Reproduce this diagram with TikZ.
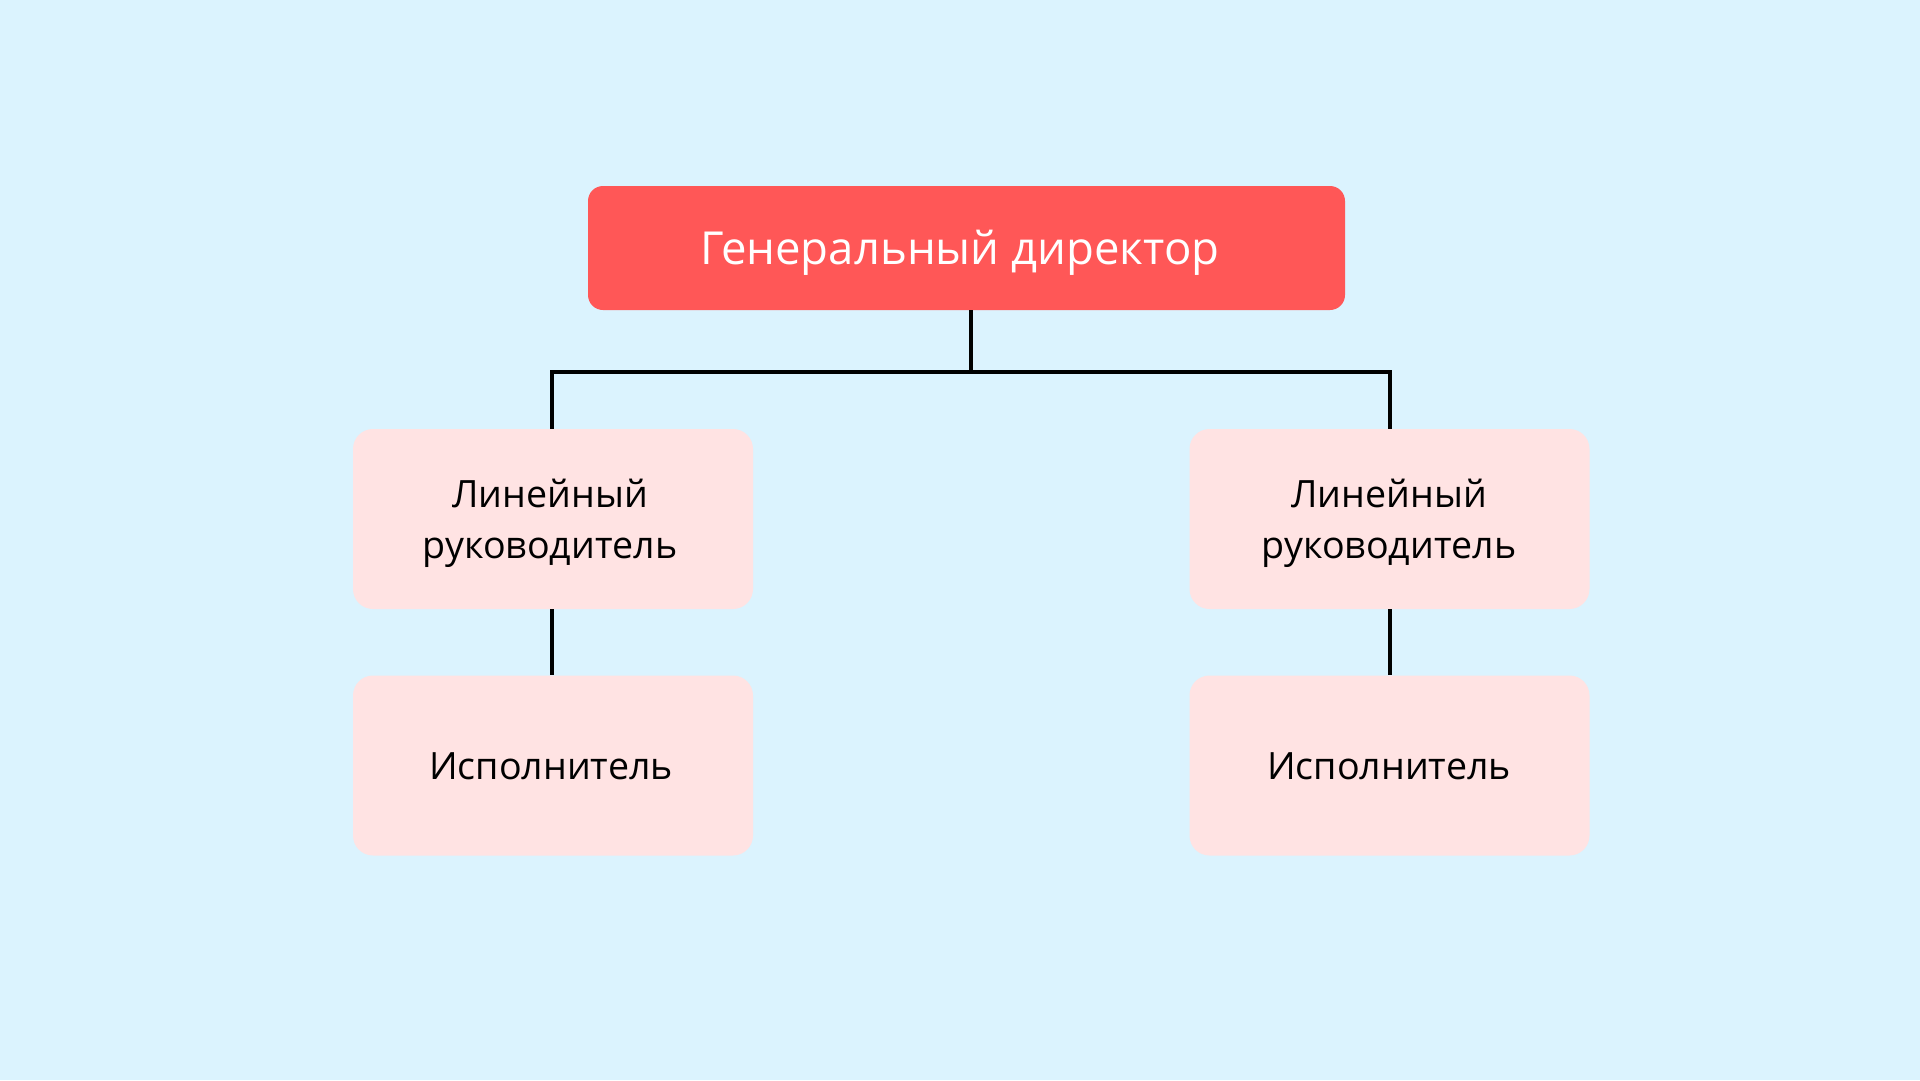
\documentclass[tikz,border=0pt]{standalone}
\usepackage{fontspec}
\setmainfont{Open Sans}
\definecolor{bgc}{HTML}{DBF3FE}
\definecolor{redc}{HTML}{FF5757}
\definecolor{pinkc}{HTML}{FFE3E3}
\tikzset{
  topbox/.style={fill=redc, rounded corners=15pt, minimum width=757pt, minimum height=124pt, inner sep=0pt},
  toptext/.style={text=white, inner sep=0pt, font=\fontsize{45.5}{55}\selectfont},
  subbox/.style={fill=pinkc, rounded corners=20pt, minimum width=400pt, minimum height=180pt, inner sep=0pt},
  subtext/.style={text=black, inner sep=0pt, align=center, font=\fontsize{37.6}{51.4}\selectfont},
  conn/.style={draw=black, line width=3.4pt}
}
\begin{document}
\begin{tikzpicture}[x=1pt,y=-1pt]
\fill[bgc] (0,0) rectangle (1920,1080);
\useasboundingbox (0,0) rectangle (1920,1080);
\node[topbox] (gd) at (966.5,248) {};
\node[toptext] (gdt) at (960,253) {Генеральный директор};
\node[subbox] (l1) at (553,519) {};
\node[subbox] (l2) at (553,765.5) {};
\node[subbox] (r1) at (1389.5,519) {};
\node[subbox] (r2) at (1389.5,765.5) {};
\node[subtext] (l1t) at (550,523) {Линейный\\руководитель};
\node[subtext] (l2t) at (551,766) {Исполнитель};
\node[subtext] (r1t) at (1389,523) {Линейный\\руководитель};
\node[subtext] (r2t) at (1389,766) {Исполнитель};
\coordinate (top) at (971,310);
\coordinate (mid) at (971,374);
\coordinate (hl) at (552,372);
\coordinate (hr) at (1390,372);
\draw[conn] (top) -- (mid);
\draw[conn] (l1.north -| hl) -- (hl) -- (hr) -- (r1.north -| hr);
\draw[conn] (l1.south -| hl) -- (l2.north -| hl);
\draw[conn] (r1.south -| hr) -- (r2.north -| hr);
\end{tikzpicture}
\end{document}
